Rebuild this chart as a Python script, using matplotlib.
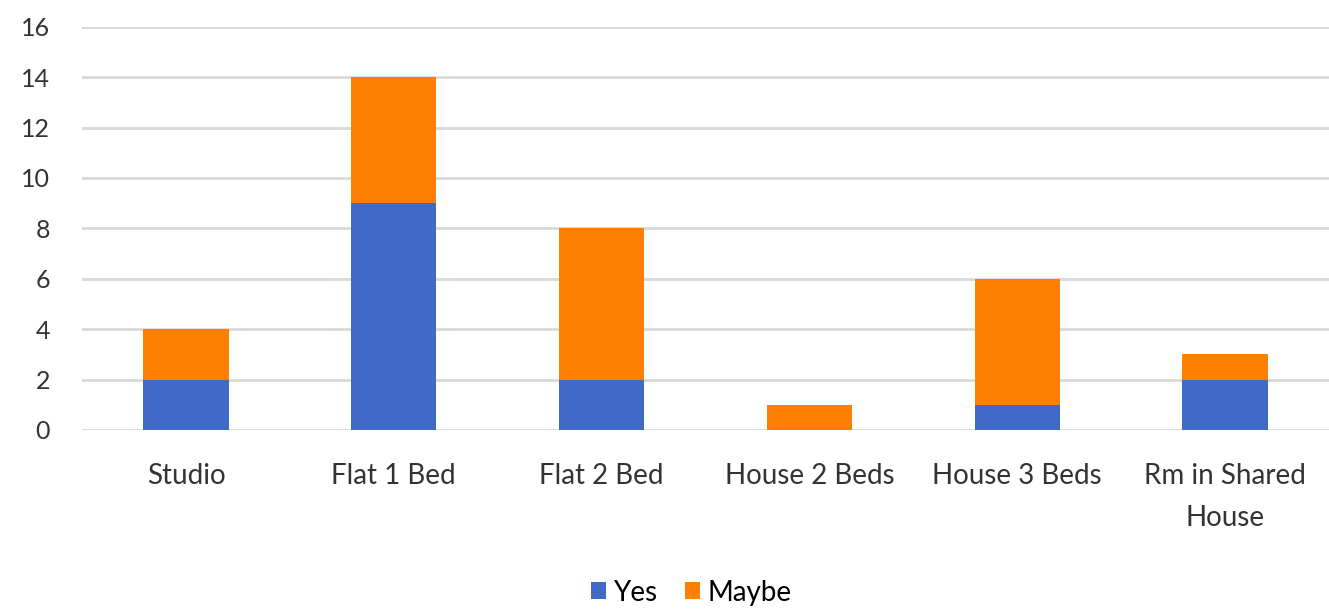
import matplotlib
matplotlib.use("Agg")
import matplotlib.pyplot as plt
import numpy as np

categories = ["Studio", "Flat 1 Bed", "Flat 2 Bed", "House 2 Beds",
              "House 3 Beds", "Rm in Shared\nHouse"]
yes = [2, 9, 2, 0, 1, 2]
maybe = [2, 5, 6, 1, 5, 1]
yticks = [0, 2, 4, 6, 8, 10, 12, 14, 16]

plt.rcParams['font.family'] = ['Lato', 'DejaVu Sans']

fig = plt.figure(figsize=(13.29, 6.09), dpi=100)
ax = fig.add_axes([0.0617, 0.294, 0.9383, 0.662])

x = np.arange(len(categories))
ax.bar(x, yes, width=0.41, color="#4169C8", label="Yes", zorder=3)
ax.bar(x, maybe, width=0.41, bottom=yes, color="#FF7F00", label="Maybe", zorder=3)

ax.set_xlim(-0.5, len(categories) - 0.5)
ax.set_ylim(0, 16)
ax.set_yticks(yticks)
ax.yaxis.grid(True, color="#D9D9D9", linewidth=2)
ax.set_axisbelow(True)
for s in ax.spines.values():
    s.set_visible(False)
ax.tick_params(axis="both", length=0, labelsize=20, colors="#333333")
ax.tick_params(axis="y", pad=23, labelsize=18)
ax.tick_params(axis="x", pad=24)
ax.set_xticks(x)
ax.set_xticklabels(categories, linespacing=1.75)

fig.legend(loc="center", bbox_to_anchor=(0.52, 0.027), ncol=2, frameon=False,
           fontsize=20, handlelength=0.55, handleheight=0.55, handletextpad=0.25,
           columnspacing=1.0)

plt.savefig("out.png")
